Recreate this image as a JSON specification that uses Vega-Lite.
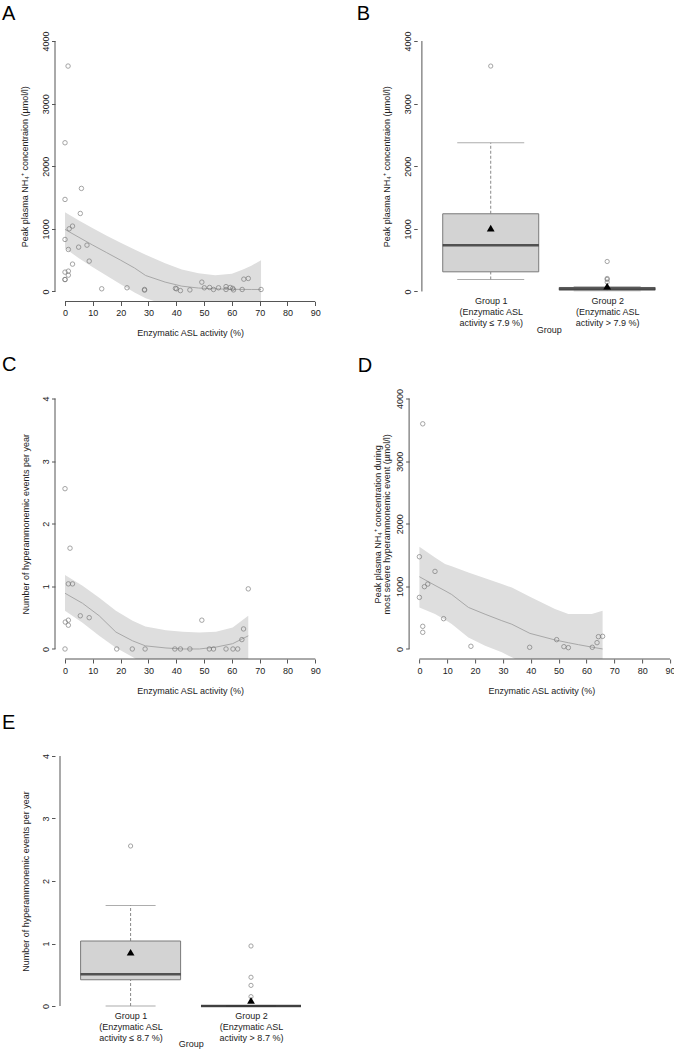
{
  "$schema": "https://vega.github.io/schema/vega-lite/v6.json",
  "background": "white",
  "padding": {"left": 2, "top": 3, "right": 0, "bottom": 0},
  "config": {
    "font": "Liberation Sans",
    "view": {"stroke": null},
    "axis": {"grid": false, "domain": false, "labelFontSize": 9, "titleFontSize": 9, "titleFontWeight": "normal", "labelColor": "#222", "titleColor": "#222", "tickColor": "#555", "tickWidth": 1, "labelFlush": false, "labelOverlap": false},
    "axisY": {"labelAngle": -90, "labelAlign": "center", "labelBaseline": "alphabetic", "tickSize": 3.5, "labelPadding": 3, "titlePadding": 10},
    "axisX": {"tickSize": 4, "labelPadding": 3, "titlePadding": 11},
    "title": {"font": "Liberation Sans", "fontSize": 20, "fontWeight": "normal", "anchor": "start", "frame": "group", "baseline": "alphabetic", "color": "#000"}
  },
  "datasets": {
    "a_pts": [
      {"x": 0, "y": 2375}, {"x": 1.1, "y": 3600}, {"x": 0, "y": 1470}, {"x": 5.9, "y": 1646}, {"x": 5.5, "y": 1246},
      {"x": 2.7, "y": 1044}, {"x": 1.5, "y": 1001}, {"x": 0, "y": 831}, {"x": 7.9, "y": 740}, {"x": 4.9, "y": 708},
      {"x": 1.2, "y": 671}, {"x": 8.7, "y": 485}, {"x": 2.7, "y": 437}, {"x": 0, "y": 309}, {"x": 1.2, "y": 325},
      {"x": 1.2, "y": 261}, {"x": 0, "y": 192}, {"x": 0, "y": 190},
      {"x": 13.2, "y": 43}, {"x": 22.3, "y": 59}, {"x": 28.6, "y": 21}, {"x": 28.6, "y": 32}, {"x": 39.7, "y": 50},
      {"x": 40.1, "y": 43}, {"x": 41.5, "y": 14}, {"x": 44.9, "y": 25}, {"x": 49.2, "y": 149}, {"x": 50.1, "y": 59},
      {"x": 52.0, "y": 64}, {"x": 53.4, "y": 32}, {"x": 55.2, "y": 59}, {"x": 57.9, "y": 78}, {"x": 57.9, "y": 32},
      {"x": 59.4, "y": 64}, {"x": 60.3, "y": 50}, {"x": 60.6, "y": 25}, {"x": 63.7, "y": 32}, {"x": 64.3, "y": 197},
      {"x": 65.9, "y": 208}, {"x": 70.5, "y": 32}
    ],
    "a_fit": [
      {"x": 0, "fit": 991, "lo": 690, "hi": 1265},
      {"x": 5, "fit": 865, "lo": 530, "hi": 1135},
      {"x": 10, "fit": 740, "lo": 385, "hi": 1010},
      {"x": 15, "fit": 620, "lo": 250, "hi": 890},
      {"x": 20, "fit": 500, "lo": 115, "hi": 780},
      {"x": 25, "fit": 375, "lo": -15, "hi": 670},
      {"x": 29, "fit": 255, "lo": -110, "hi": 585},
      {"x": 36, "fit": 150, "lo": -210, "hi": 450},
      {"x": 42, "fit": 85, "lo": -300, "hi": 350},
      {"x": 48, "fit": 55, "lo": -360, "hi": 290},
      {"x": 54, "fit": 42, "lo": -400, "hi": 260},
      {"x": 60, "fit": 35, "lo": -450, "hi": 285},
      {"x": 64, "fit": 33, "lo": -500, "hi": 350},
      {"x": 67, "fit": 32, "lo": -540, "hi": 410},
      {"x": 70.5, "fit": 32, "lo": -600, "hi": 500}
    ],
    "b_box": [
      {"g": 1, "q1": 314, "med": 740, "q3": 1241, "lo": 192, "hi": 2375, "mean": 1012},
      {"g": 2, "q1": 21, "med": 43, "q3": 64, "lo": 11, "hi": 75, "mean": 85}
    ],
    "b_out": [
      {"g": 1, "y": 3600}, {"g": 2, "y": 479}, {"g": 2, "y": 208}, {"g": 2, "y": 192}, {"g": 2, "y": 149}
    ],
    "c_pts": [
      {"x": 0, "y": 2.56}, {"x": 1.8, "y": 1.61}, {"x": 1.2, "y": 1.04}, {"x": 2.7, "y": 1.04}, {"x": 5.5, "y": 0.53},
      {"x": 8.7, "y": 0.5}, {"x": 0.1, "y": 0.43}, {"x": 1.2, "y": 0.46}, {"x": 1.2, "y": 0.38}, {"x": 0, "y": 0},
      {"x": 18.6, "y": 0}, {"x": 24.2, "y": 0}, {"x": 28.8, "y": 0}, {"x": 39.5, "y": 0}, {"x": 41.5, "y": 0},
      {"x": 44.9, "y": 0}, {"x": 49.2, "y": 0.46}, {"x": 51.9, "y": 0}, {"x": 53.4, "y": 0}, {"x": 57.9, "y": 0},
      {"x": 60.4, "y": 0}, {"x": 62.1, "y": 0}, {"x": 63.6, "y": 0.15}, {"x": 64.2, "y": 0.32}, {"x": 65.9, "y": 0.96}
    ],
    "c_fit": [
      {"x": 0, "fit": 0.89, "lo": 0.61, "hi": 1.18},
      {"x": 6.3, "fit": 0.73, "lo": 0.42, "hi": 1.01},
      {"x": 12.3, "fit": 0.53, "lo": 0.21, "hi": 0.82},
      {"x": 18.3, "fit": 0.27, "lo": 0.02, "hi": 0.61},
      {"x": 24.3, "fit": 0.13, "lo": -0.13, "hi": 0.45},
      {"x": 28.9, "fit": 0.05, "lo": -0.25, "hi": 0.36},
      {"x": 36.3, "fit": 0.016, "lo": -0.3, "hi": 0.3},
      {"x": 42.3, "fit": 0.0, "lo": -0.32, "hi": 0.276},
      {"x": 48.3, "fit": 0.0, "lo": -0.32, "hi": 0.265},
      {"x": 54.3, "fit": 0.03, "lo": -0.3, "hi": 0.276},
      {"x": 60.3, "fit": 0.085, "lo": -0.28, "hi": 0.345},
      {"x": 65.9, "fit": 0.21, "lo": -0.25, "hi": 0.53}
    ],
    "d_pts": [
      {"x": 1.2, "y": 3596}, {"x": 0, "y": 1473}, {"x": 5.6, "y": 1239}, {"x": 3.0, "y": 1037}, {"x": 1.8, "y": 995},
      {"x": 0, "y": 824}, {"x": 8.7, "y": 484}, {"x": 1.2, "y": 362}, {"x": 1.2, "y": 266}, {"x": 18.5, "y": 43},
      {"x": 39.6, "y": 27}, {"x": 49.3, "y": 149}, {"x": 51.9, "y": 37}, {"x": 53.5, "y": 21}, {"x": 62.1, "y": 27},
      {"x": 63.8, "y": 101}, {"x": 64.3, "y": 197}, {"x": 65.8, "y": 202}
    ],
    "d_fit": [
      {"x": 0, "fit": 1154, "lo": 664, "hi": 1633},
      {"x": 5.6, "fit": 1016, "lo": 559, "hi": 1462},
      {"x": 9.2, "fit": 930, "lo": 465, "hi": 1357},
      {"x": 11.6, "fit": 870, "lo": 399, "hi": 1320},
      {"x": 17.6, "fit": 664, "lo": 185, "hi": 1223},
      {"x": 23.6, "fit": 555, "lo": 53, "hi": 1130},
      {"x": 29.6, "fit": 452, "lo": -54, "hi": 1037},
      {"x": 33.2, "fit": 395, "lo": -134, "hi": 980},
      {"x": 39.7, "fit": 249, "lo": -280, "hi": 835},
      {"x": 48.7, "fit": 144, "lo": -450, "hi": 638},
      {"x": 53.5, "fit": 100, "lo": -500, "hi": 559},
      {"x": 57.1, "fit": 69, "lo": -550, "hi": 559},
      {"x": 61.9, "fit": 30, "lo": -600, "hi": 559},
      {"x": 65.8, "fit": 0, "lo": -650, "hi": 611}
    ],
    "e_box": [
      {"g": 1, "q1": 0.42, "med": 0.51, "q3": 1.04, "lo": 0, "hi": 1.61, "mean": 0.86},
      {"g": 2, "q1": 0, "med": 0, "q3": 0, "lo": 0, "hi": 0, "mean": 0.09}
    ],
    "e_out": [
      {"g": 1, "y": 2.56}, {"g": 2, "y": 0.96}, {"g": 2, "y": 0.46}, {"g": 2, "y": 0.33}, {"g": 2, "y": 0.15}
    ]
  },
  "columns": 2,
  "spacing": {"row": 86.5, "column": 82.1},
  "bounds": "flush",
  "concat": [
    {
      "width": 270.3, "height": 270.5,
      "title": {"text": "A", "dx": -53, "offset": 7.3},
      "layer": [
        {"data": {"name": "a_fit"}, "mark": {"type": "area", "clip": true, "color": "#dedede"},
         "encoding": {"x": {"field": "x", "type": "quantitative", "scale": {"domain": [-3.6, 93.6], "nice": false, "zero": false}, "axis": {"values": [0, 10, 20, 30, 40, 50, 60, 70, 80, 90], "format": "d", "title": "Enzymatic ASL activity (%)"}},
                      "y": {"field": "lo", "type": "quantitative", "scale": {"domain": [-160, 4160], "nice": false, "zero": false}, "axis": {"values": [0, 1000, 2000, 3000, 4000], "format": "d", "title": "Peak plasma NH₄⁺ concentraion (µmol/l)", "titlePadding": 12}},
                      "y2": {"field": "hi"}}},
        {"data": {"name": "a_fit"}, "mark": {"type": "line", "color": "#a8a8a8", "strokeWidth": 1},
         "encoding": {"x": {"field": "x", "type": "quantitative", "scale": {"domain": [-3.6, 93.6], "nice": false, "zero": false}, "axis": {"values": [0, 10, 20, 30, 40, 50, 60, 70, 80, 90], "format": "d", "title": "Enzymatic ASL activity (%)"}},
                      "y": {"field": "fit", "type": "quantitative", "scale": {"domain": [-160, 4160], "nice": false, "zero": false}, "axis": {"values": [0, 1000, 2000, 3000, 4000], "format": "d", "title": "Peak plasma NH₄⁺ concentraion (µmol/l)", "titlePadding": 12}}}},
        {"data": {"name": "a_pts"}, "mark": {"type": "point", "shape": "circle", "filled": false, "size": 20, "strokeWidth": 0.9, "color": "#707070"},
         "encoding": {"x": {"field": "x", "type": "quantitative", "scale": {"domain": [-3.6, 93.6], "nice": false, "zero": false}, "axis": {"values": [0, 10, 20, 30, 40, 50, 60, 70, 80, 90], "format": "d", "title": "Enzymatic ASL activity (%)"}},
                      "y": {"field": "y", "type": "quantitative", "scale": {"domain": [-160, 4160], "nice": false, "zero": false}, "axis": {"values": [0, 1000, 2000, 3000, 4000], "format": "d", "title": "Peak plasma NH₄⁺ concentraion (µmol/l)", "titlePadding": 12}}}},
        {"data": {"values": [{}]}, "mark": {"type": "rule", "color": "#555", "strokeWidth": 1},
         "encoding": {"x": {"datum": 0, "type": "quantitative", "scale": {"domain": [-3.6, 93.6], "nice": false, "zero": false}, "axis": {"values": [0, 10, 20, 30, 40, 50, 60, 70, 80, 90], "format": "d", "title": "Enzymatic ASL activity (%)"}},
                      "x2": {"datum": 90},
                      "y": {"datum": -160, "type": "quantitative", "scale": {"domain": [-160, 4160], "nice": false, "zero": false}, "axis": {"values": [0, 1000, 2000, 3000, 4000], "format": "d", "title": "Peak plasma NH₄⁺ concentraion (µmol/l)", "titlePadding": 12}}}},
        {"data": {"values": [{}]}, "mark": {"type": "rule", "color": "#555", "strokeWidth": 1},
         "encoding": {"x": {"datum": -3.6, "type": "quantitative", "scale": {"domain": [-3.6, 93.6], "nice": false, "zero": false}, "axis": {"values": [0, 10, 20, 30, 40, 50, 60, 70, 80, 90], "format": "d", "title": "Enzymatic ASL activity (%)"}},
                      "y": {"datum": 0, "type": "quantitative", "scale": {"domain": [-160, 4160], "nice": false, "zero": false}, "axis": {"values": [0, 1000, 2000, 3000, 4000], "format": "d", "title": "Peak plasma NH₄⁺ concentraion (µmol/l)", "titlePadding": 12}},
                      "y2": {"datum": 4000}}}
      ]
    },
    {
      "width": 265.6, "height": 270.5,
      "title": {"text": "B", "dx": -52.4, "offset": 7.3},
      "data": {"name": "b_box"},
      "layer": [
        {"mark": {"type": "rule", "color": "#888", "strokeDash": [3, 2], "strokeWidth": 1},
         "encoding": {"x": {"field": "g", "type": "quantitative", "scale": {"domain": [0.342, 2.537], "nice": false, "zero": false}},
                      "y": {"field": "q3", "type": "quantitative", "scale": {"domain": [-160, 4160], "nice": false, "zero": false}},
                      "y2": {"field": "hi"}}},
        {"mark": {"type": "rule", "color": "#888", "strokeDash": [3, 2], "strokeWidth": 1},
         "encoding": {"x": {"field": "g", "type": "quantitative", "scale": {"domain": [0.342, 2.537], "nice": false, "zero": false}},
                      "y": {"field": "lo", "type": "quantitative", "scale": {"domain": [-160, 4160], "nice": false, "zero": false}},
                      "y2": {"field": "q1"}}},
        {"mark": {"type": "tick", "orient": "horizontal", "size": 67, "thickness": 1, "color": "#8a8a8a"},
         "encoding": {"x": {"field": "g", "type": "quantitative", "scale": {"domain": [0.342, 2.537], "nice": false, "zero": false}},
                      "y": {"field": "hi", "type": "quantitative", "scale": {"domain": [-160, 4160], "nice": false, "zero": false}}}},
        {"mark": {"type": "tick", "orient": "horizontal", "size": 67, "thickness": 1, "color": "#8a8a8a"},
         "encoding": {"x": {"field": "g", "type": "quantitative", "scale": {"domain": [0.342, 2.537], "nice": false, "zero": false}},
                      "y": {"field": "lo", "type": "quantitative", "scale": {"domain": [-160, 4160], "nice": false, "zero": false}}}},
        {"mark": {"type": "bar", "orient": "vertical", "size": 96, "fill": "#d3d3d3", "stroke": "#7a7a7a", "strokeWidth": 1},
         "encoding": {"x": {"field": "g", "type": "quantitative", "scale": {"domain": [0.342, 2.537], "nice": false, "zero": false},
                            "axis": {"values": [1, 2], "ticks": false, "tickSize": 0, "labelPadding": -5, "labelBaseline": "top", "labelLineHeight": 11,
                                     "labelExpr": "datum.value == 1 ? ['Group 1', '(Enzymatic ASL', 'activity ≤ 7.9 %)'] : ['Group 2', '(Enzymatic ASL', 'activity > 7.9 %)']",
                                     "title": "Group", "titlePadding": -2.3, "titleX": 139.6}},
                      "y": {"field": "q1", "type": "quantitative", "scale": {"domain": [-160, 4160], "nice": false, "zero": false},
                            "axis": {"values": [0, 1000, 2000, 3000, 4000], "format": "d", "offset": -8.1, "title": "Peak plasma NH₄⁺ concentraion (µmol/l)", "titlePadding": 12}},
                      "y2": {"field": "q3"}}},
        {"mark": {"type": "tick", "orient": "horizontal", "size": 96, "thickness": 2.5, "color": "#1a1a1a"},
         "encoding": {"x": {"field": "g", "type": "quantitative", "scale": {"domain": [0.342, 2.537], "nice": false, "zero": false}},
                      "y": {"field": "med", "type": "quantitative", "scale": {"domain": [-160, 4160], "nice": false, "zero": false}}}},
        {"data": {"name": "b_out"}, "mark": {"type": "point", "shape": "circle", "filled": false, "size": 18, "strokeWidth": 0.9, "color": "#707070"},
         "encoding": {"x": {"field": "g", "type": "quantitative", "scale": {"domain": [0.342, 2.537], "nice": false, "zero": false}},
                      "y": {"field": "y", "type": "quantitative", "scale": {"domain": [-160, 4160], "nice": false, "zero": false}}}},
        {"mark": {"type": "point", "shape": "triangle-up", "filled": true, "size": 60, "color": "#000", "opacity": 1},
         "encoding": {"x": {"field": "g", "type": "quantitative", "scale": {"domain": [0.342, 2.537], "nice": false, "zero": false}},
                      "y": {"field": "mean", "type": "quantitative", "scale": {"domain": [-160, 4160], "nice": false, "zero": false}}}},
        {"data": {"values": [{}]}, "mark": {"type": "rule", "color": "#555", "strokeWidth": 1},
         "encoding": {"x": {"datum": 0.409, "type": "quantitative", "scale": {"domain": [0.342, 2.537], "nice": false, "zero": false}},
                      "y": {"datum": 0, "type": "quantitative", "scale": {"domain": [-160, 4160], "nice": false, "zero": false}},
                      "y2": {"datum": 4000}}}
      ]
    },
    {
      "width": 270.3, "height": 270.5,
      "title": {"text": "C", "dx": -53, "offset": 13.3},
      "layer": [
        {"data": {"name": "c_fit"}, "mark": {"type": "area", "clip": true, "color": "#dedede"},
         "encoding": {"x": {"field": "x", "type": "quantitative", "scale": {"domain": [-3.6, 93.6], "nice": false, "zero": false}, "axis": {"values": [0, 10, 20, 30, 40, 50, 60, 70, 80, 90], "format": "d", "title": "Enzymatic ASL activity (%)"}},
                      "y": {"field": "lo", "type": "quantitative", "scale": {"domain": [-0.16, 4.16], "nice": false, "zero": false}, "axis": {"values": [0, 1, 2, 3, 4], "format": "d", "title": "Number of hyperammonemic events per year", "titlePadding": 11}},
                      "y2": {"field": "hi"}}},
        {"data": {"name": "c_fit"}, "mark": {"type": "line", "color": "#a8a8a8", "strokeWidth": 1},
         "encoding": {"x": {"field": "x", "type": "quantitative", "scale": {"domain": [-3.6, 93.6], "nice": false, "zero": false}, "axis": {"values": [0, 10, 20, 30, 40, 50, 60, 70, 80, 90], "format": "d", "title": "Enzymatic ASL activity (%)"}},
                      "y": {"field": "fit", "type": "quantitative", "scale": {"domain": [-0.16, 4.16], "nice": false, "zero": false}, "axis": {"values": [0, 1, 2, 3, 4], "format": "d", "title": "Number of hyperammonemic events per year", "titlePadding": 11}}}},
        {"data": {"name": "c_pts"}, "mark": {"type": "point", "shape": "circle", "filled": false, "size": 20, "strokeWidth": 0.9, "color": "#707070"},
         "encoding": {"x": {"field": "x", "type": "quantitative", "scale": {"domain": [-3.6, 93.6], "nice": false, "zero": false}, "axis": {"values": [0, 10, 20, 30, 40, 50, 60, 70, 80, 90], "format": "d", "title": "Enzymatic ASL activity (%)"}},
                      "y": {"field": "y", "type": "quantitative", "scale": {"domain": [-0.16, 4.16], "nice": false, "zero": false}, "axis": {"values": [0, 1, 2, 3, 4], "format": "d", "title": "Number of hyperammonemic events per year", "titlePadding": 11}}}},
        {"data": {"values": [{}]}, "mark": {"type": "rule", "color": "#555", "strokeWidth": 1},
         "encoding": {"x": {"datum": 0, "type": "quantitative", "scale": {"domain": [-3.6, 93.6], "nice": false, "zero": false}, "axis": {"values": [0, 10, 20, 30, 40, 50, 60, 70, 80, 90], "format": "d", "title": "Enzymatic ASL activity (%)"}},
                      "x2": {"datum": 90},
                      "y": {"datum": -0.16, "type": "quantitative", "scale": {"domain": [-0.16, 4.16], "nice": false, "zero": false}, "axis": {"values": [0, 1, 2, 3, 4], "format": "d", "title": "Number of hyperammonemic events per year", "titlePadding": 11}}}},
        {"data": {"values": [{}]}, "mark": {"type": "rule", "color": "#555", "strokeWidth": 1},
         "encoding": {"x": {"datum": -3.6, "type": "quantitative", "scale": {"domain": [-3.6, 93.6], "nice": false, "zero": false}, "axis": {"values": [0, 10, 20, 30, 40, 50, 60, 70, 80, 90], "format": "d", "title": "Enzymatic ASL activity (%)"}},
                      "y": {"datum": 0, "type": "quantitative", "scale": {"domain": [-0.16, 4.16], "nice": false, "zero": false}, "axis": {"values": [0, 1, 2, 3, 4], "format": "d", "title": "Number of hyperammonemic events per year", "titlePadding": 11}},
                      "y2": {"datum": 4}}}
      ]
    },
    {
      "width": 264.5, "height": 270.5,
      "title": {"text": "D", "dx": -51.4, "offset": 12.3},
      "layer": [
        {"data": {"name": "d_fit"}, "mark": {"type": "area", "clip": true, "color": "#dedede"},
         "encoding": {"x": {"field": "x", "type": "quantitative", "scale": {"domain": [-3.7, 91.3], "nice": false, "zero": false}, "axis": {"values": [0, 10, 20, 30, 40, 50, 60, 70, 80, 90], "format": "d", "title": "Enzymatic ASL activity (%)"}},
                      "y": {"field": "lo", "type": "quantitative", "scale": {"domain": [-160, 4160], "nice": false, "zero": false}, "axis": {"values": [0, 1000, 2000, 3000, 4000], "format": "d", "title": ["Peak plasma NH₄⁺ concentration during", "most severe hyperammonemic event (µmol/l)"], "titleLineHeight": 9.5, "titlePadding": 4}},
                      "y2": {"field": "hi"}}},
        {"data": {"name": "d_fit"}, "mark": {"type": "line", "color": "#a8a8a8", "strokeWidth": 1},
         "encoding": {"x": {"field": "x", "type": "quantitative", "scale": {"domain": [-3.7, 91.3], "nice": false, "zero": false}, "axis": {"values": [0, 10, 20, 30, 40, 50, 60, 70, 80, 90], "format": "d", "title": "Enzymatic ASL activity (%)"}},
                      "y": {"field": "fit", "type": "quantitative", "scale": {"domain": [-160, 4160], "nice": false, "zero": false}, "axis": {"values": [0, 1000, 2000, 3000, 4000], "format": "d", "title": ["Peak plasma NH₄⁺ concentration during", "most severe hyperammonemic event (µmol/l)"], "titleLineHeight": 9.5, "titlePadding": 4}}}},
        {"data": {"name": "d_pts"}, "mark": {"type": "point", "shape": "circle", "filled": false, "size": 20, "strokeWidth": 0.9, "color": "#707070"},
         "encoding": {"x": {"field": "x", "type": "quantitative", "scale": {"domain": [-3.7, 91.3], "nice": false, "zero": false}, "axis": {"values": [0, 10, 20, 30, 40, 50, 60, 70, 80, 90], "format": "d", "title": "Enzymatic ASL activity (%)"}},
                      "y": {"field": "y", "type": "quantitative", "scale": {"domain": [-160, 4160], "nice": false, "zero": false}, "axis": {"values": [0, 1000, 2000, 3000, 4000], "format": "d", "title": ["Peak plasma NH₄⁺ concentration during", "most severe hyperammonemic event (µmol/l)"], "titleLineHeight": 9.5, "titlePadding": 4}}}},
        {"data": {"values": [{}]}, "mark": {"type": "rule", "color": "#555", "strokeWidth": 1},
         "encoding": {"x": {"datum": 0, "type": "quantitative", "scale": {"domain": [-3.7, 91.3], "nice": false, "zero": false}, "axis": {"values": [0, 10, 20, 30, 40, 50, 60, 70, 80, 90], "format": "d", "title": "Enzymatic ASL activity (%)"}},
                      "x2": {"datum": 90},
                      "y": {"datum": -160, "type": "quantitative", "scale": {"domain": [-160, 4160], "nice": false, "zero": false}, "axis": {"values": [0, 1000, 2000, 3000, 4000], "format": "d", "title": ["Peak plasma NH₄⁺ concentration during", "most severe hyperammonemic event (µmol/l)"], "titleLineHeight": 9.5, "titlePadding": 4}}}},
        {"data": {"values": [{}]}, "mark": {"type": "rule", "color": "#555", "strokeWidth": 1},
         "encoding": {"x": {"datum": -3.7, "type": "quantitative", "scale": {"domain": [-3.7, 91.3], "nice": false, "zero": false}, "axis": {"values": [0, 10, 20, 30, 40, 50, 60, 70, 80, 90], "format": "d", "title": "Enzymatic ASL activity (%)"}},
                      "y": {"datum": 0, "type": "quantitative", "scale": {"domain": [-160, 4160], "nice": false, "zero": false}, "axis": {"values": [0, 1000, 2000, 3000, 4000], "format": "d", "title": ["Peak plasma NH₄⁺ concentration during", "most severe hyperammonemic event (µmol/l)"], "titleLineHeight": 9.5, "titlePadding": 4}},
                      "y2": {"datum": 4000}}}
      ]
    },
    {
      "width": 271.6, "height": 270,
      "title": {"text": "E", "dx": -53, "offset": 13.3},
      "data": {"name": "e_box"},
      "layer": [
        {"mark": {"type": "rule", "color": "#888", "strokeDash": [3, 2], "strokeWidth": 1},
         "encoding": {"x": {"field": "g", "type": "quantitative", "scale": {"domain": [0.4136, 2.5864], "nice": false, "zero": false}},
                      "y": {"field": "q3", "type": "quantitative", "scale": {"domain": [-0.16, 4.16], "nice": false, "zero": false}},
                      "y2": {"field": "hi"}}},
        {"mark": {"type": "rule", "color": "#888", "strokeDash": [3, 2], "strokeWidth": 1},
         "encoding": {"x": {"field": "g", "type": "quantitative", "scale": {"domain": [0.4136, 2.5864], "nice": false, "zero": false}},
                      "y": {"field": "lo", "type": "quantitative", "scale": {"domain": [-0.16, 4.16], "nice": false, "zero": false}},
                      "y2": {"field": "q1"}}},
        {"mark": {"type": "tick", "orient": "horizontal", "size": 50, "thickness": 1, "color": "#8a8a8a"},
         "encoding": {"x": {"field": "g", "type": "quantitative", "scale": {"domain": [0.4136, 2.5864], "nice": false, "zero": false}},
                      "y": {"field": "hi", "type": "quantitative", "scale": {"domain": [-0.16, 4.16], "nice": false, "zero": false}}}},
        {"mark": {"type": "tick", "orient": "horizontal", "size": 50, "thickness": 1, "color": "#8a8a8a"},
         "encoding": {"x": {"field": "g", "type": "quantitative", "scale": {"domain": [0.4136, 2.5864], "nice": false, "zero": false}},
                      "y": {"field": "lo", "type": "quantitative", "scale": {"domain": [-0.16, 4.16], "nice": false, "zero": false}}}},
        {"mark": {"type": "bar", "orient": "vertical", "size": 100, "fill": "#d3d3d3", "stroke": "#7a7a7a", "strokeWidth": 1},
         "encoding": {"x": {"field": "g", "type": "quantitative", "scale": {"domain": [0.4136, 2.5864], "nice": false, "zero": false},
                            "axis": {"values": [1, 2], "ticks": false, "tickSize": 0, "labelPadding": -5, "labelBaseline": "top", "labelLineHeight": 11,
                                     "labelExpr": "datum.value == 1 ? ['Group 1', '(Enzymatic ASL', 'activity ≤ 8.7 %)'] : ['Group 2', '(Enzymatic ASL', 'activity > 8.7 %)']",
                                     "title": "Group", "titlePadding": -2.3}},
                      "y": {"field": "q1", "type": "quantitative", "scale": {"domain": [-0.16, 4.16], "nice": false, "zero": false},
                            "axis": {"values": [0, 1, 2, 3, 4], "format": "d", "title": "Number of hyperammonemic events per year", "titlePadding": 11}},
                      "y2": {"field": "q3"}}},
        {"mark": {"type": "tick", "orient": "horizontal", "size": 100, "thickness": 2.5, "color": "#1a1a1a"},
         "encoding": {"x": {"field": "g", "type": "quantitative", "scale": {"domain": [0.4136, 2.5864], "nice": false, "zero": false}},
                      "y": {"field": "med", "type": "quantitative", "scale": {"domain": [-0.16, 4.16], "nice": false, "zero": false}}}},
        {"data": {"name": "e_out"}, "mark": {"type": "point", "shape": "circle", "filled": false, "size": 18, "strokeWidth": 0.9, "color": "#707070"},
         "encoding": {"x": {"field": "g", "type": "quantitative", "scale": {"domain": [0.4136, 2.5864], "nice": false, "zero": false}},
                      "y": {"field": "y", "type": "quantitative", "scale": {"domain": [-0.16, 4.16], "nice": false, "zero": false}}}},
        {"mark": {"type": "point", "shape": "triangle-up", "filled": true, "size": 60, "color": "#000", "opacity": 1},
         "encoding": {"x": {"field": "g", "type": "quantitative", "scale": {"domain": [0.4136, 2.5864], "nice": false, "zero": false}},
                      "y": {"field": "mean", "type": "quantitative", "scale": {"domain": [-0.16, 4.16], "nice": false, "zero": false}}}},
        {"data": {"values": [{}]}, "mark": {"type": "rule", "color": "#555", "strokeWidth": 1},
         "encoding": {"x": {"datum": 0.4136, "type": "quantitative", "scale": {"domain": [0.4136, 2.5864], "nice": false, "zero": false}},
                      "y": {"datum": 0, "type": "quantitative", "scale": {"domain": [-0.16, 4.16], "nice": false, "zero": false}},
                      "y2": {"datum": 4}}}
      ]
    }
  ]
}
